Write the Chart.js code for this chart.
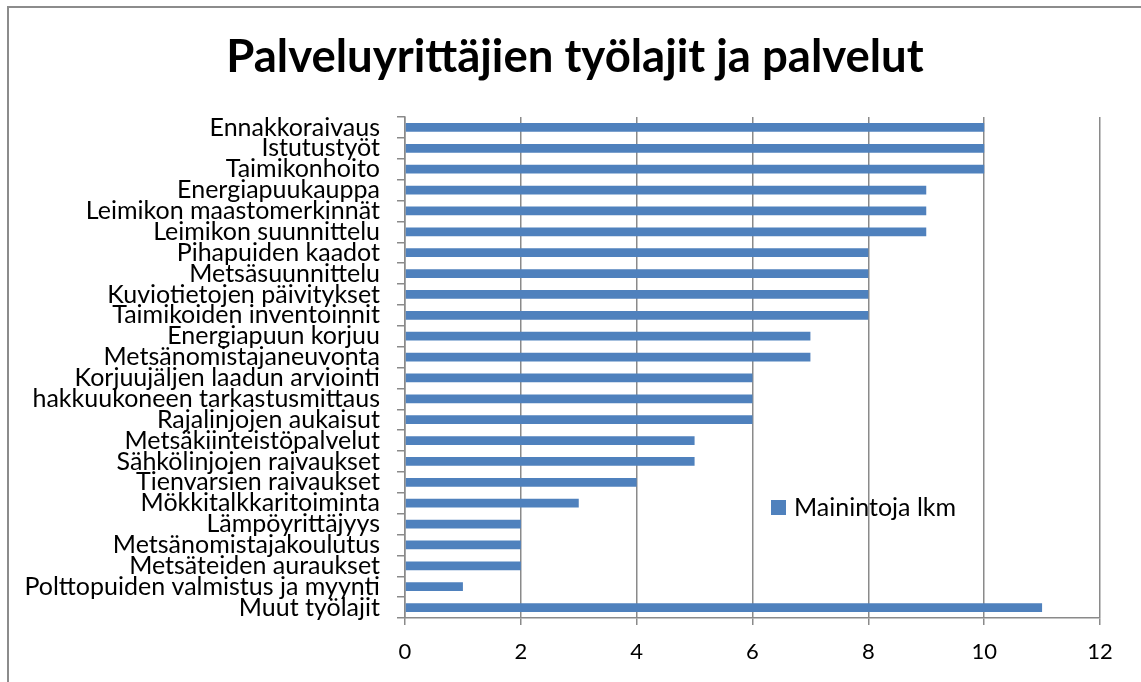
<!DOCTYPE html>
<html>
<head>
<meta charset="utf-8">
<script src="https://cdn.jsdelivr.net/npm/chart.js@4.4.1/dist/chart.umd.min.js"></script>
<style>
  html, body { margin: 0; padding: 0; background: #fff; }
  #wrap { position: relative; width: 1141px; height: 682px; overflow: hidden; }
  #frame { position: absolute; left: 7px; top: 6px; width: 1200px; height: 800px; border: 2px solid #8c8c8c; box-sizing: border-box; }
  canvas { position: absolute; left: 0; top: 0; }
</style>
</head>
<body>
<div id="wrap">
  <div id="frame"></div>
  <canvas id="c" width="1141" height="682"></canvas>
</div>
<script>
const titleText = "Palveluyrittäjien työlajit ja palvelut";
const seriesName = "Mainintoja lkm";
const categories = [
  "Ennakkoraivaus",
  "Istutustyöt",
  "Taimikonhoito",
  "Energiapuukauppa",
  "Leimikon maastomerkinnät",
  "Leimikon suunnittelu",
  "Pihapuiden kaadot",
  "Metsäsuunnittelu",
  "Kuviotietojen päivitykset",
  "Taimikoiden inventoinnit",
  "Energiapuun korjuu",
  "Metsänomistajaneuvonta",
  "Korjuujäljen laadun arviointi",
  "hakkuukoneen tarkastusmittaus",
  "Rajalinjojen aukaisut",
  "Metsäkiinteistöpalvelut",
  "Sähkölinjojen raivaukset",
  "Tienvarsien raivaukset",
  "Mökkitalkkaritoiminta",
  "Lämpöyrittäjyys",
  "Metsänomistajakoulutus",
  "Metsäteiden auraukset",
  "Polttopuiden valmistus ja myynti",
  "Muut työlajit"
];
const values = [10, 10, 10, 9, 9, 9, 8, 8, 8, 8, 7, 7, 6, 6, 6, 5, 5, 4, 3, 2, 2, 2, 1, 11];
const xTicks = [0, 2, 4, 6, 8, 10, 12];

const FONT = "Lato";
const barColor = "#4F81BD";
const gridColor = "#8a8a8a";

const titleAndLegend = {
  id: "titleAndLegend",
  afterDraw(chart) {
    const ctx = chart.ctx;
    const ds = chart.data.datasets[0];
    ctx.save();
    // title
    ctx.fillStyle = "#000";
    ctx.font = "bold 45.5px " + FONT;
    ctx.textAlign = "center";
    ctx.textBaseline = "middle";
    ctx.fillText(titleText, 575, 57);
    // legend inside plot
    ctx.fillStyle = ds.backgroundColor;
    ctx.fillRect(771, 500, 15, 15);
    ctx.fillStyle = "#000";
    ctx.font = "25px " + FONT;
    ctx.textBaseline = "alphabetic";
    ctx.textAlign = "left";
    ctx.fillText(ds.label, 794, 516);
    ctx.restore();
  }
};

new Chart(document.getElementById("c"), {
  type: "bar",
  data: {
    labels: categories,
    datasets: [{
      label: seriesName,
      data: values,
      backgroundColor: barColor,
      borderWidth: 0,
      categoryPercentage: 1.0,
      barPercentage: 0.42
    }]
  },
  options: {
    indexAxis: "y",
    responsive: false,
    animation: false,
    devicePixelRatio: 1,
    layout: { padding: { left: 0, right: 41, top: 117, bottom: 0 } },
    plugins: {
      legend: { display: false },
      tooltip: { enabled: false },
      title: { display: false }
    },
    scales: {
      x: {
        type: "linear",
        min: 0,
        max: 12,
        afterBuildTicks(scale) { scale.ticks = xTicks.map(v => ({ value: v })); },
        afterFit(scale) { scale.height = 64; },
        grid: { color: gridColor, lineWidth: 1.5, tickLength: 7, drawOnChartArea: true },
        border: { display: true, color: gridColor, width: 1.5 },
        ticks: { color: "#000", font: { family: FONT, size: 22 }, padding: 14 }
      },
      y: {
        type: "category",
        offset: true,
        afterFit(scale) { scale.width = 405; },
        grid: { color: gridColor, lineWidth: 1.5, tickLength: 8, drawOnChartArea: false, offset: true },
        border: { display: true, color: gridColor, width: 1.5 },
        ticks: { color: "#000", font: { family: FONT, size: 25 }, padding: 17, autoSkip: false }
      }
    }
  },
  plugins: [titleAndLegend]
});
</script>
</body>
</html>
